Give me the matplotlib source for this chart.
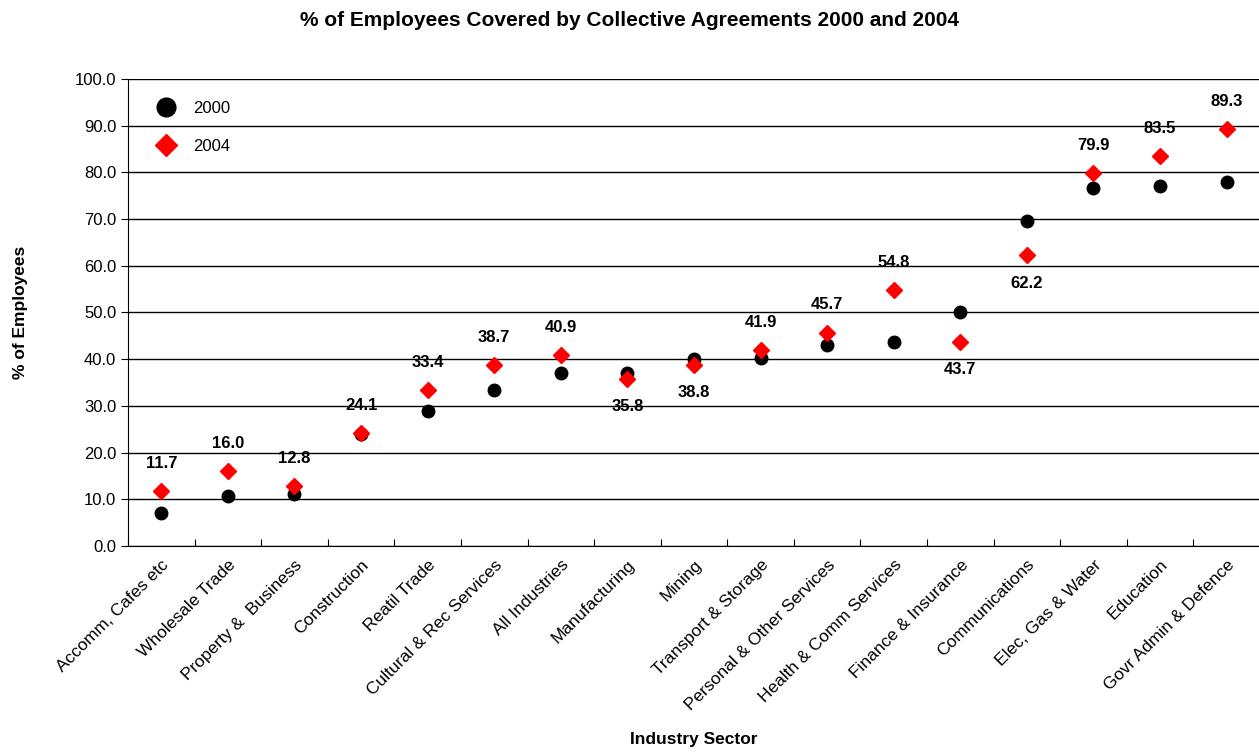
import matplotlib.pyplot as plt
import numpy as np

plt.rcParams['font.family'] = ['Liberation Sans', 'DejaVu Sans']

sectors = ['Accomm, Cafes etc', 'Wholesale Trade', 'Property &  Business', 'Construction',
           'Reatil Trade', 'Cultural & Rec Services', 'All Industries', 'Manufacturing',
           'Mining', 'Transport & Storage', 'Personal & Other Services', 'Health & Comm Services',
           'Finance & Insurance', 'Communications', 'Elec, Gas & Water', 'Education',
           'Govr Admin & Defence']
y2000 = [7.0, 10.8, 11.1, 24.0, 28.9, 33.4, 37.0, 37.0, 40.0, 40.3, 43.0, 43.7,
         50.1, 69.6, 76.7, 77.1, 77.9]
y2004 = [11.7, 16.0, 12.8, 24.1, 33.4, 38.7, 40.9, 35.8, 38.8, 41.9, 45.7, 54.8,
         43.7, 62.2, 79.9, 83.5, 89.3]
# labels drawn below the marker for these sectors
below = ['Manufacturing', 'Mining', 'Finance & Insurance', 'Communications']

fig = plt.figure(figsize=(12.59, 7.52), dpi=100)
ax = fig.add_axes([0.1017, 0.274, 0.899, 0.621])

x = np.arange(len(sectors))
ax.plot(x, y2000, 'o', color='black', ms=9, label='2000', zorder=3)
ax.plot(x, y2004, 'D', color='#ff0000', ms=8.5, label='2004', zorder=4)

for i, (s, v) in enumerate(zip(sectors, y2004)):
    off = -20 if s in below else 20
    ax.annotate('%.1f' % v, (i, v), xytext=(0, off), textcoords='offset points',
                ha='center', va='center', fontsize=12, fontweight='bold')

ax.set_xlim(-0.5, len(sectors) - 0.5)
ax.set_ylim(0, 100)
ax.set_yticks(np.arange(0, 101, 10))
ax.set_yticklabels(['%.1f' % v for v in np.arange(0, 101, 10)], fontsize=12)
ax.yaxis.grid(True, color='black', linewidth=1)
ax.set_axisbelow(True)

ax.set_xticks(np.arange(len(sectors) + 1) - 0.5, minor=False)
ax.set_xticklabels([])
ax.set_xticks(x, minor=True)
ax.set_xticklabels(sectors, minor=True, rotation=45, ha='right', rotation_mode='anchor',
                   fontsize=12.5)
ax.tick_params(axis='x', which='minor', length=0, pad=8)
ax.tick_params(axis='x', which='major', length=5, direction='in')
ax.tick_params(axis='y', length=5, direction='out')
for side in ['top', 'right']:
    ax.spines[side].set_visible(False)

ax.set_ylabel('% of Employees', fontsize=12.5, fontweight='bold', labelpad=34)
ax.set_xlabel('Industry Sector', fontsize=12.5, fontweight='bold', labelpad=14)
fig.suptitle('% of Employees Covered by Collective Agreements 2000 and 2004',
             fontsize=15, fontweight='bold', y=0.985)

leg = ax.legend(loc='upper left', bbox_to_anchor=(0.0, 1.0), frameon=False, fontsize=12,
                handletextpad=0.6, labelspacing=1.4, borderpad=0.8)
leg.legend_handles[0].set_markersize(13.5)
leg.legend_handles[1].set_markersize(11.5)

fig.savefig('out.png', dpi=100)
